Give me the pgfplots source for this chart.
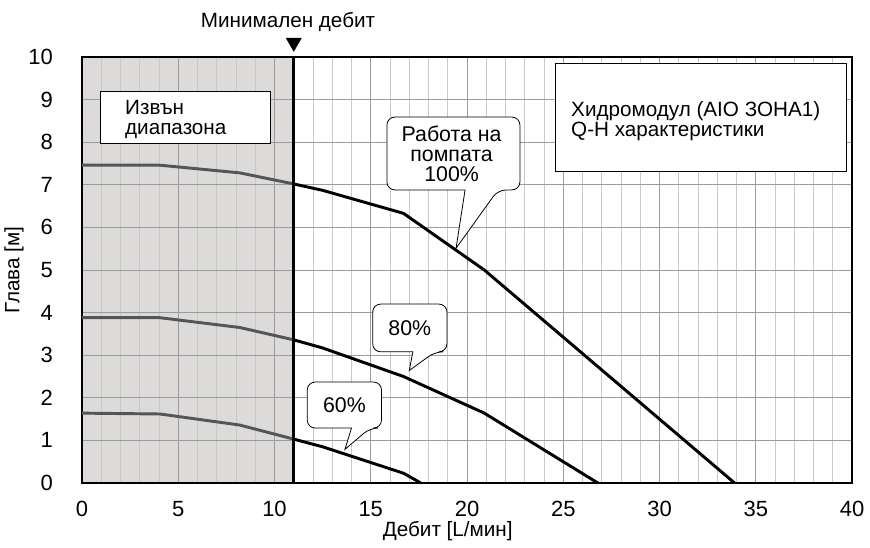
\documentclass[border=0pt]{standalone}
\usepackage{pgfplots}
\pgfplotsset{compat=1.18}
\usepackage{fontspec}
\setmainfont{Liberation Sans}
\definecolor{shade}{RGB}{220,219,218}
\definecolor{curvegray}{RGB}{85,85,85}
\definecolor{minorgrid}{RGB}{200,200,200}
\definecolor{majorgrid}{RGB}{155,155,155}
\begin{document}
\begin{tikzpicture}
\begin{axis}[
 at={(0,0)}, anchor=south west,
 scale only axis, width=577.5pt, height=319.5pt,
 xmin=0, xmax=40, ymin=0, ymax=10,
 xtick={0,5,...,40}, ytick={0,1,...,10},
 minor x tick num=4,
 grid=both,
 major grid style={draw=majorgrid, line width=0.7pt},
 minor grid style={draw=minorgrid, line width=0.7pt},
 major tick length=0pt, minor tick length=0pt,
 axis line style={line width=1.5pt},
 tick label style={font=\fontsize{16.5}{19}\selectfont},
 /pgf/number format/assume math mode=true,
 xticklabel style={inner sep=0pt, yshift=-13.5pt},
 yticklabel style={xshift=-18.25pt},
 xlabel={Дебит [L/мин]}, ylabel={Глава [м]},
 label style={font=\fontsize{15.5}{18}\selectfont},
 xlabel style={at={([yshift=-36pt]rel axis cs:0.475,0)}, anchor=center, inner sep=0pt},
 ylabel style={at={([xshift=-51pt]rel axis cs:0,0.5)}, anchor=center},
 set layers, clip=false,
]
% out-of-range shading
\addplot[draw=none, fill=shade, on layer=axis background] coordinates {(0,10)(11,10)} \closedcycle;

% 100%
\addplot[curvegray, line width=2.2pt] coordinates {(0,7.46)(4.05,7.46)(8.2,7.28)(11,7.02)};
\addplot[black, line width=2.2pt] coordinates {(11,7.02)(12.5,6.87)(16.7,6.33)(20.9,5.0)(33.9,0)};
% 80%
\addplot[curvegray, line width=2.2pt] coordinates {(0,3.88)(4.05,3.88)(8.2,3.65)(11,3.36)};
\addplot[black, line width=2.2pt] coordinates {(11,3.36)(12.5,3.17)(16.7,2.5)(20.9,1.64)(25,0.5)(26.8,0)};
% 60%
\addplot[curvegray, line width=2.2pt] coordinates {(0,1.64)(4.05,1.62)(8.2,1.36)(11,1.03)};
\addplot[black, line width=2.2pt] coordinates {(11,1.03)(12.5,0.85)(16.7,0.23)(17.6,0)};

% minimum flow line and marker
\addplot[black, line width=2.2pt] coordinates {(11,0)(11,10)};
\addplot[only marks, mark=triangle*, mark size=6.5pt, mark options={rotate=180, fill=black, draw=black}] coordinates {(11,10.34)};
\node[font=\fontsize{15.5}{18}\selectfont, yshift=26pt] at (axis cs:10.7,10) {Минимален дебит};

% boxes
\draw[fill=white, line width=0.8pt] (axis cs:0.97,9.18) rectangle (axis cs:9.8,7.96);
\node[anchor=west, align=left, inner sep=0pt, font=\fontsize{15.5}{15}\selectfont] at (axis cs:2.23,8.53) {Извън\\диапазона};
\draw[fill=white, line width=0.8pt] (axis cs:24.62,9.84) rectangle (axis cs:39.69,7.32);
\node[anchor=west, align=left, inner sep=0pt, font=\fontsize{15.5}{15}\selectfont] at (axis cs:25.4,8.49) {Хидромодул (AIO ЗОНА1)\\Q-H характеристики};

% callouts
\draw[fill=white, line width=0.6pt, rounded corners=6pt] (axis cs:18,8.59) -- (axis cs:22.75,8.59) -- (axis cs:22.75,6.88) -- (axis cs:21.61,6.88) [sharp corners] -- (axis cs:19.43,5.51) -- (axis cs:19.90,6.88) [rounded corners=6pt] -- (axis cs:15.84,6.88) -- (axis cs:15.84,8.59) -- cycle;
\node[align=center, font=\fontsize{16}{15}\selectfont] at (axis cs:19.2,7.73) {Работа на\\помпата\\100\%};

\draw[fill=white, line width=0.6pt, rounded corners=6pt] (axis cs:17,4.2) -- (axis cs:18.96,4.2) -- (axis cs:18.96,3.08) -- (axis cs:18.34,3.08) [sharp corners] -- (axis cs:17.0,2.64) -- (axis cs:17.19,3.08) [rounded corners=6pt] -- (axis cs:15.1,3.08) -- (axis cs:15.1,4.2) -- cycle;
\node[font=\fontsize{16}{15}\selectfont] at (axis cs:17.03,3.64) {80\%};

\draw[fill=white, line width=0.6pt, rounded corners=6pt] (axis cs:13.6,2.37) -- (axis cs:15.56,2.37) -- (axis cs:15.56,1.29) -- (axis cs:14.96,1.29) [sharp corners] -- (axis cs:13.66,0.79) -- (axis cs:14.0,1.29) [rounded corners=6pt] -- (axis cs:11.7,1.29) -- (axis cs:11.7,2.37) -- cycle;
\node[font=\fontsize{16}{15}\selectfont] at (axis cs:13.63,1.83) {60\%};
\end{axis}
\pgfresetboundingbox
\useasboundingbox (-61.5pt,-48pt) rectangle (591pt,362.25pt);
\end{tikzpicture}
\end{document}
